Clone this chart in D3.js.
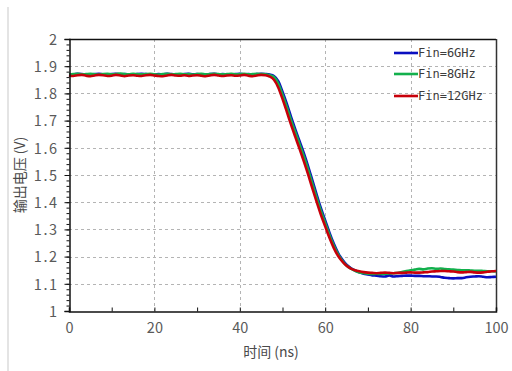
<!DOCTYPE html>
<html>
<head>
<meta charset="utf-8">
<script src="https://cdn.jsdelivr.net/npm/d3@7/dist/d3.min.js"></script>
<style>
  html, body { margin: 0; padding: 0; background: #fff; }
  svg { display: block; }
</style>
</head>
<body>
<svg id="chart" width="512" height="371"></svg>
<script>
// Output voltage vs time for three input frequencies (sampled every 1 ns)
const timeNs = d3.range(0, 101, 1);

const fin6GHz = [
  1.871,1.870,1.872,1.871,1.869,1.870,1.871,1.872,1.870,1.869,
  1.871,1.872,1.870,1.871,1.870,1.869,1.871,1.872,1.871,1.870,
  1.869,1.871,1.870,1.872,1.871,1.870,1.869,1.871,1.872,1.870,
  1.871,1.870,1.869,1.871,1.872,1.870,1.871,1.869,1.870,1.871,
  1.872,1.870,1.871,1.870,1.871,1.872,1.871,1.869,1.864,1.845,
  1.806,1.762,1.714,1.668,1.624,1.580,1.532,1.480,1.428,1.378,
  1.333,1.288,1.248,1.214,1.189,1.170,1.158,1.149,1.142,1.137,
  1.134,1.131,1.130,1.128,1.127,1.131,1.127,1.128,1.129,1.130,
  1.130,1.129,1.129,1.128,1.128,1.127,1.127,1.125,1.122,1.121,
  1.120,1.121,1.121,1.124,1.126,1.127,1.128,1.126,1.124,1.125,
  1.126
];

const fin8GHz = [
  1.870,1.871,1.872,1.870,1.871,1.872,1.870,1.869,1.871,1.872,
  1.870,1.871,1.873,1.871,1.870,1.872,1.871,1.870,1.871,1.872,
  1.870,1.869,1.871,1.872,1.870,1.871,1.872,1.870,1.871,1.869,
  1.871,1.872,1.870,1.871,1.872,1.871,1.870,1.871,1.872,1.870,
  1.871,1.872,1.870,1.871,1.872,1.871,1.870,1.867,1.860,1.836,
  1.795,1.750,1.702,1.657,1.613,1.568,1.520,1.468,1.417,1.368,
  1.324,1.280,1.241,1.209,1.185,1.167,1.156,1.148,1.142,1.139,
  1.137,1.136,1.137,1.136,1.137,1.138,1.139,1.140,1.143,1.147,
  1.150,1.152,1.155,1.153,1.156,1.157,1.155,1.156,1.154,1.153,
  1.152,1.151,1.150,1.150,1.149,1.148,1.148,1.147,1.146,1.146,
  1.145
];

const fin12GHz = [
  1.866,1.864,1.867,1.868,1.865,1.863,1.866,1.868,1.867,1.864,
  1.865,1.868,1.866,1.863,1.866,1.867,1.865,1.864,1.867,1.868,
  1.866,1.864,1.863,1.866,1.868,1.866,1.865,1.867,1.864,1.866,
  1.867,1.865,1.863,1.866,1.868,1.866,1.864,1.866,1.867,1.865,
  1.866,1.868,1.865,1.863,1.866,1.868,1.867,1.862,1.850,1.822,
  1.780,1.733,1.685,1.640,1.596,1.550,1.502,1.451,1.401,1.354,
  1.311,1.269,1.232,1.203,1.182,1.166,1.156,1.150,1.146,1.143,
  1.141,1.140,1.139,1.140,1.141,1.140,1.139,1.140,1.140,1.141,
  1.142,1.141,1.141,1.142,1.143,1.145,1.146,1.147,1.147,1.146,
  1.145,1.143,1.142,1.143,1.144,1.142,1.141,1.142,1.144,1.146,
  1.147
];

const seriesNames = ["Fin=6GHz", "Fin=8GHz", "Fin=12GHz"];
const seriesColors = ["#0a0fc0", "#12b04c", "#c8000a"];
const seriesValues = [fin6GHz, fin8GHz, fin12GHz];

const xTicks = [0, 20, 40, 60, 80, 100];
const yTicks = [1, 1.1, 1.2, 1.3, 1.4, 1.5, 1.6, 1.7, 1.8, 1.9, 2];
const xTitle = "时间 (ns)";
const yTitle = "输出电压 (V)";

const svg = d3.select("#chart");
const m = { left: 69, right: 496, top: 39, bottom: 311 };

const x = d3.scaleLinear().domain([0, 100]).range([m.left, m.right]);
const y = d3.scaleLinear().domain([1, 2]).range([m.bottom, m.top]);

// thin grey page edge on the left
svg.append("rect").attr("x", 7).attr("y", 7).attr("width", 2).attr("height", 364)
  .attr("fill", "#e4e4e4");

// dashed grid
const grid = svg.append("g").attr("stroke", "#b4b4b4").attr("stroke-width", 1)
  .attr("stroke-dasharray", "3,3");
xTicks.filter(d => d > 0 && d < 100).forEach(d => {
  grid.append("line").attr("x1", Math.round(x(d)) + 0.5).attr("x2", Math.round(x(d)) + 0.5)
    .attr("y1", m.top).attr("y2", m.bottom);
});
yTicks.filter(d => d > 1 && d < 2).forEach(d => {
  grid.append("line").attr("y1", Math.round(y(d)) + 0.5).attr("y2", Math.round(y(d)) + 0.5)
    .attr("x1", m.left).attr("x2", m.right);
});

// frame: top and right edges
svg.append("line").attr("x1", m.left).attr("x2", m.right).attr("y1", m.top + 0.5).attr("y2", m.top + 0.5)
  .attr("stroke", "#111").attr("stroke-width", 1.5);
svg.append("line").attr("x1", m.right + 0.5).attr("x2", m.right + 0.5).attr("y1", m.top).attr("y2", m.bottom)
  .attr("stroke", "#333").attr("stroke-width", 1.5);

// curves
const line = d3.line()
  .x((d, i) => x(timeNs[i]))
  .y(d => y(d))
  .curve(d3.curveMonotoneX);

seriesValues.forEach((vals, k) => {
  svg.append("path").datum(vals)
    .attr("d", line)
    .attr("fill", "none")
    .attr("stroke", seriesColors[k])
    .attr("stroke-width", 2.6)
    .attr("stroke-linejoin", "round");
});

// y axis with minor ticks pointing outward
const tickFont = "'Noto Sans CJK SC', 'Noto Sans', sans-serif";
const yAxis = d3.axisLeft(y).tickValues(yTicks).tickSize(5).tickFormat(d3.format("~g"));
const yMinor = d3.axisLeft(y).tickValues(d3.range(1, 2.001, 0.02)).tickSize(3).tickFormat("");
svg.append("g").attr("transform", `translate(${m.left + 0.5},0)`).call(yMinor)
  .call(g => g.select(".domain").remove())
  .selectAll("line").attr("stroke", "#111");
const gy = svg.append("g").attr("transform", `translate(${m.left + 0.5},0)`).call(yAxis);
gy.select(".domain").attr("stroke", "#111").attr("stroke-width", 1.5);
gy.selectAll("line").attr("stroke", "#111");
gy.selectAll("text").attr("font-family", tickFont).attr("font-size", 14.5)
  .attr("fill", "#5a5a5a").attr("x", -11).attr("dy", "0.36em")
  .style("letter-spacing", "1.5px");

// x axis with ticks pointing inward
const xAxis = d3.axisBottom(x).tickValues(xTicks).tickSize(-4).tickFormat(d3.format("d"));
const xMinor = d3.axisBottom(x).tickValues([10, 30, 50, 70, 90]).tickSize(-4).tickFormat("");
svg.append("g").attr("transform", `translate(0,${m.bottom + 0.5})`).call(xMinor)
  .call(g => g.select(".domain").remove())
  .selectAll("line").attr("stroke", "#111");
const gx = svg.append("g").attr("transform", `translate(0,${m.bottom + 0.5})`).call(xAxis);
gx.select(".domain").attr("stroke", "#111").attr("stroke-width", 1.5);
gx.selectAll("line").attr("stroke", "#111");
gx.selectAll("text").attr("font-family", tickFont).attr("font-size", 14.5)
  .attr("fill", "#5a5a5a").attr("y", 11).attr("dy", "0.71em");

// axis titles
svg.append("text").attr("x", 271).attr("y", 357).attr("text-anchor", "middle")
  .attr("font-family", tickFont).attr("font-size", 14).attr("fill", "#4a4a4a")
  .text(xTitle);
svg.append("text").attr("transform", "translate(25,175) rotate(-90)")
  .attr("text-anchor", "middle")
  .attr("font-family", tickFont).attr("font-size", 14).attr("fill", "#4a4a4a")
  .text(yTitle);

// legend
const legendRows = [53, 74, 96];
seriesNames.forEach((name, k) => {
  const ly = legendRows[k];
  svg.append("line").attr("x1", 394).attr("x2", 418).attr("y1", ly).attr("y2", ly)
    .attr("stroke", seriesColors[k]).attr("stroke-width", 2.6);
  svg.append("text").attr("x", 418).attr("y", ly).attr("dy", "0.35em")
    .attr("font-family", "'DejaVu Sans Mono', monospace").attr("font-size", 12)
    .attr("fill", "#3c3c3c").text(name);
});
</script>
</body>
</html>
